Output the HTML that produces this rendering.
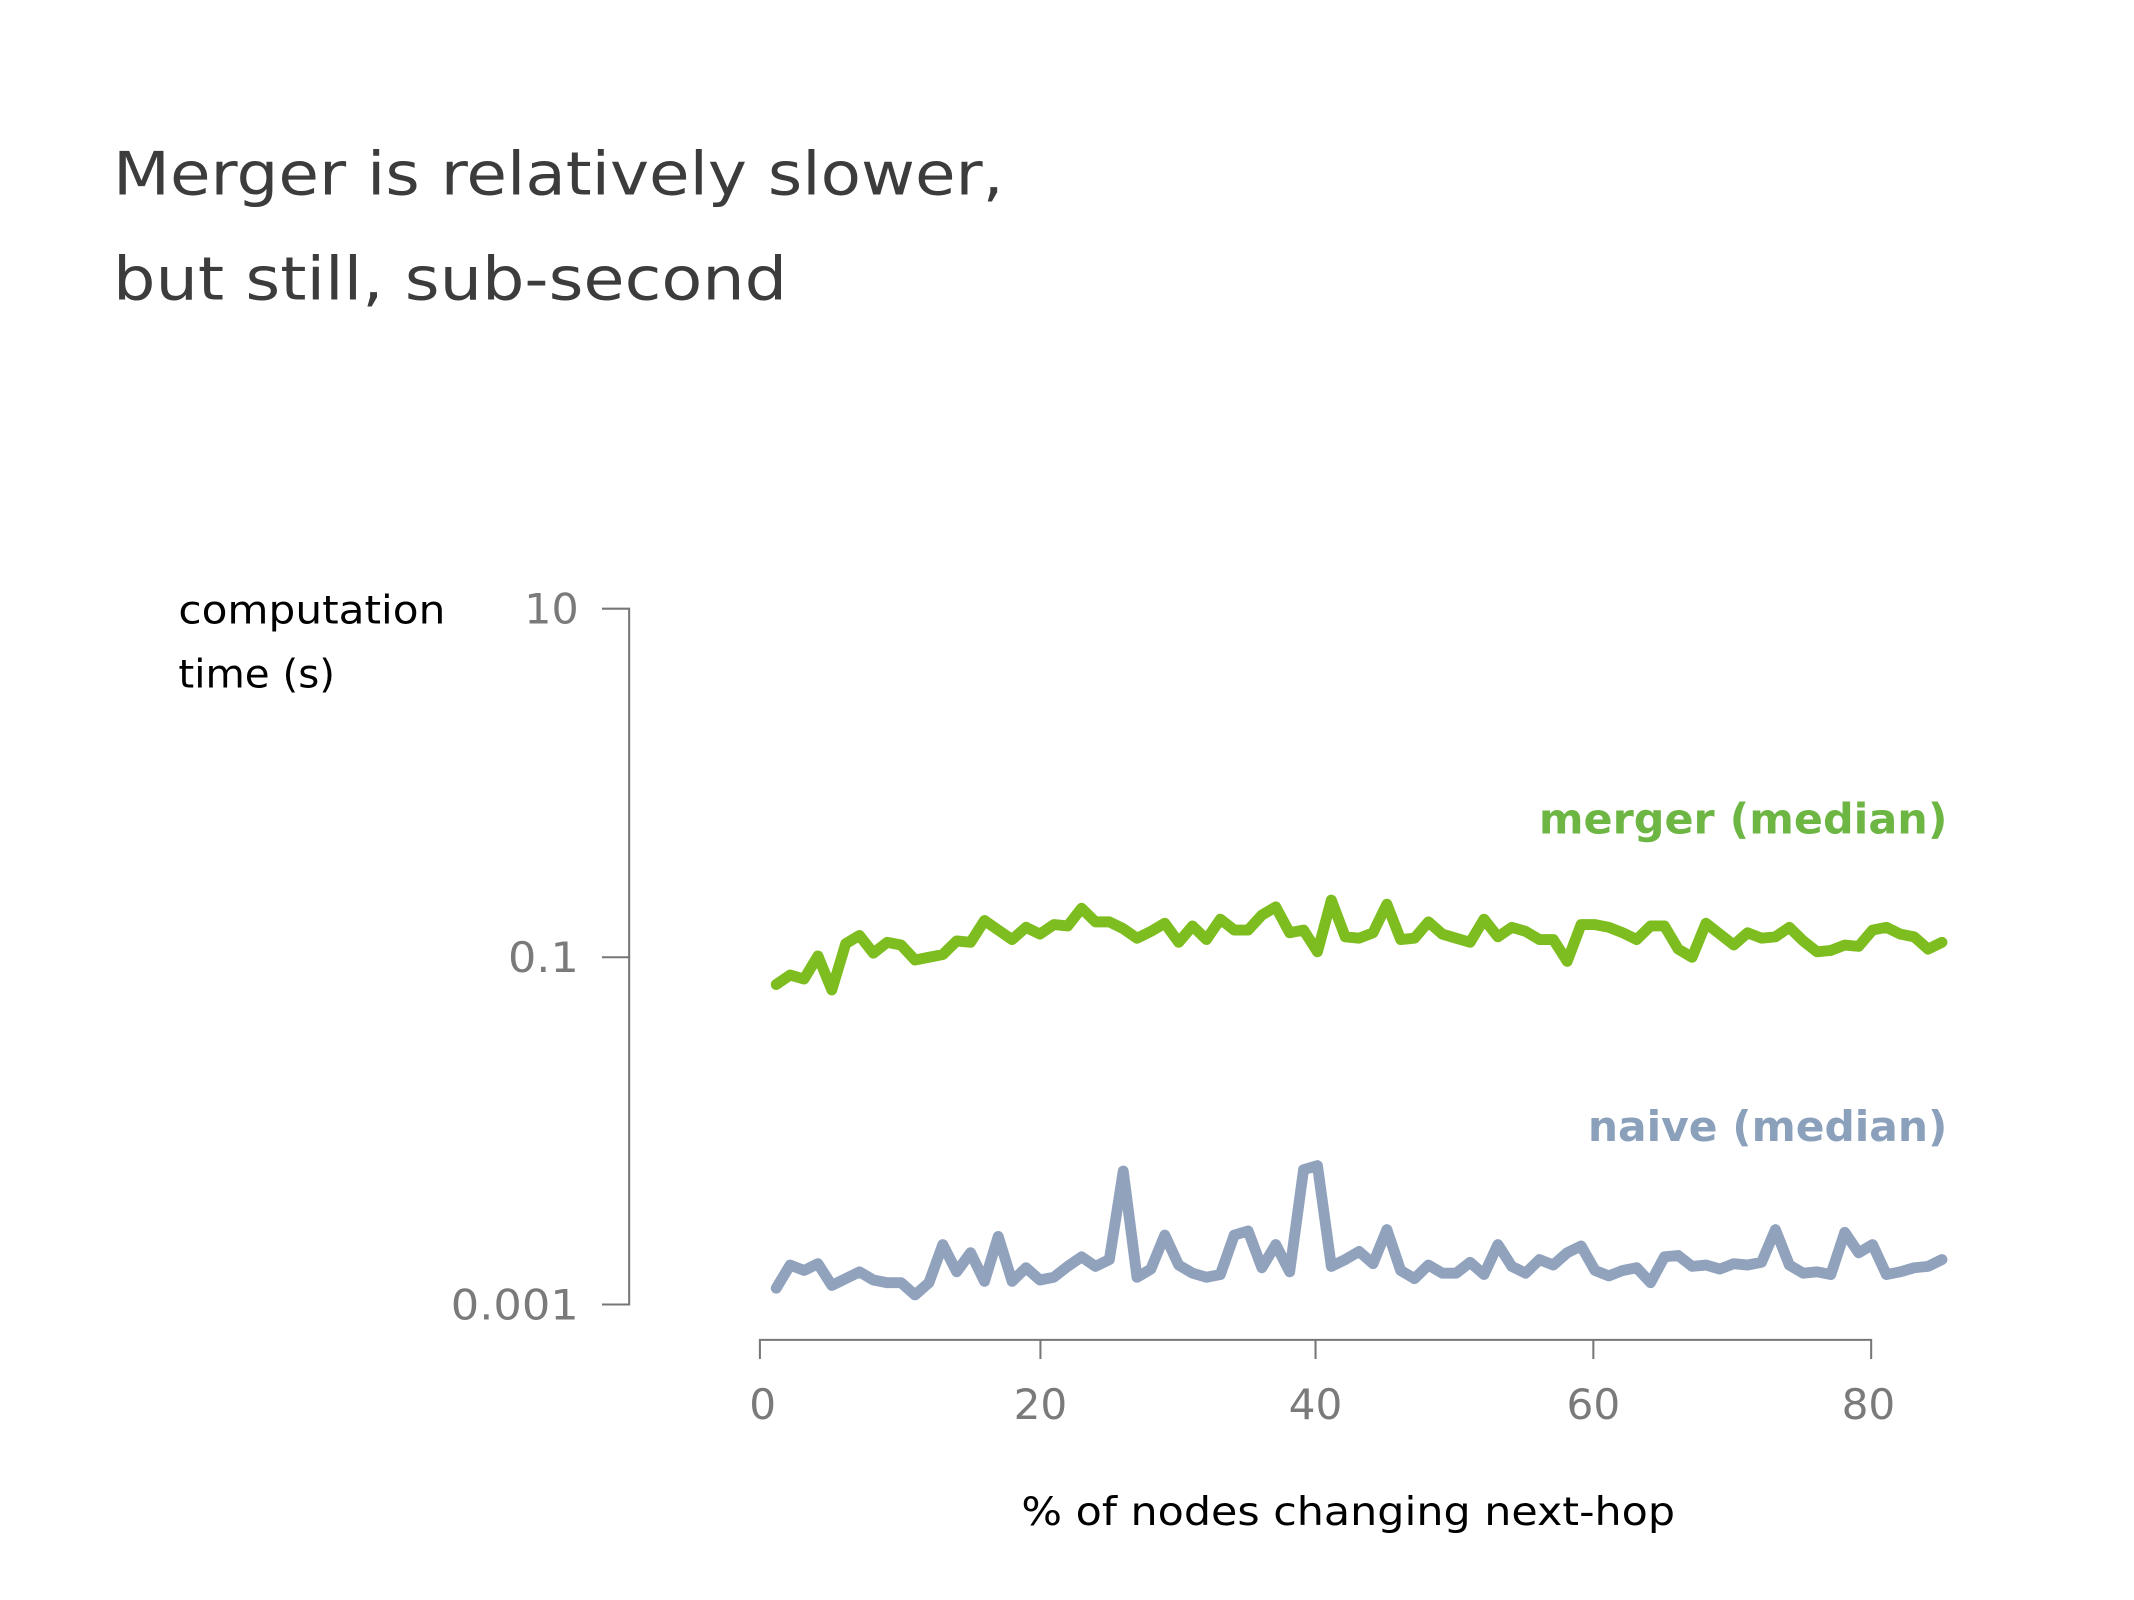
<!DOCTYPE html>
<html><head><meta charset="utf-8"><style>html,body{margin:0;padding:0;background:#fff}svg{display:block}</style></head>
<body>
<svg width="2134" height="1600" viewBox="0 0 1567 1175" preserveAspectRatio="none" xmlns="http://www.w3.org/2000/svg" font-family="'DejaVu Sans','Liberation Sans',sans-serif">
<text x="83" y="143" font-size="44" fill="#3c3c3c" textLength="654" lengthAdjust="spacingAndGlyphs">Merger is relatively slower,</text>
<text x="83" y="220" font-size="44" fill="#3c3c3c" textLength="495" lengthAdjust="spacingAndGlyphs">but still, sub-second</text>
<text x="131" y="458" font-size="29" fill="#000" textLength="196" lengthAdjust="spacingAndGlyphs">computation</text>
<text x="131" y="505" font-size="29" fill="#000" textLength="115" lengthAdjust="spacingAndGlyphs">time (s)</text>
<g fill="#7a7a7a" font-size="31" text-anchor="end">
<text x="425" y="458" textLength="40" lengthAdjust="spacingAndGlyphs">10</text><text x="425" y="714" textLength="52" lengthAdjust="spacingAndGlyphs">0.1</text><text x="425" y="969" textLength="94" lengthAdjust="spacingAndGlyphs">0.001</text>
</g>
<g stroke="#777" stroke-width="1.5" fill="none">
<path d="M442 447H462V958H442M462 703H442"/>
<path d="M558 998V984H1374V998M764 984V998M966 984V998M1170 984V998"/>
</g>
<g fill="#7a7a7a" font-size="31" text-anchor="middle">
<text x="560" y="1042">0</text><text x="764" y="1042">20</text><text x="966" y="1042">40</text><text x="1170" y="1042">60</text><text x="1372" y="1042">80</text>
</g>
<text x="990" y="1120" font-size="29" fill="#000" text-anchor="middle" textLength="480" lengthAdjust="spacingAndGlyphs">% of nodes changing next-hop</text>
<text x="1430" y="612" font-size="31" font-weight="bold" fill="#6db644" text-anchor="end" textLength="300" lengthAdjust="spacingAndGlyphs">merger (median)</text>
<text x="1430" y="838" font-size="31" font-weight="bold" fill="#8aa0bb" text-anchor="end" textLength="264" lengthAdjust="spacingAndGlyphs">naive (median)</text>
<polyline id="m" fill="none" stroke="#7dbd1f" stroke-width="8" stroke-linejoin="round" stroke-linecap="round" points=""/>
<polyline id="n" fill="none" stroke="#91a2bd" stroke-width="8" stroke-linejoin="round" stroke-linecap="round" points=""/>
<script>
var m=[723,716,719,702,727,693,687,700,692,694,705,703,701,691,692,676,683,690,681,686,679,680,667,677,677,682,689,684,678,692,680,690,675,683,683,672,666,685,683,699,661,688,689,685,664,690,689,677,686,689,692,675,688,681,684,690,690,706,679,679,681,685,690,680,680,697,703,678,686,694,685,689,688,681,691,699,698,694,695,683,681,686,688,697,692];
var n=[946,929,933,928,944,939,934,940,942,942,951,942,914,934,920,941,908,941,931,940,938,930,923,930,925,860,938,932,907,929,935,938,936,907,904,931,914,934,859,856,930,925,919,928,903,933,939,929,935,935,927,936,914,930,935,925,929,920,915,933,937,933,931,942,923,922,930,929,932,928,929,927,903,929,935,934,936,905,920,914,936,934,931,930,925];
function p(a){return a.map(function(y,i){return (570+10.19*i).toFixed(1)+','+y}).join(' ')}
document.getElementById('m').setAttribute('points',p(m));
document.getElementById('n').setAttribute('points',p(n));
</script>
</svg>
</body></html>
